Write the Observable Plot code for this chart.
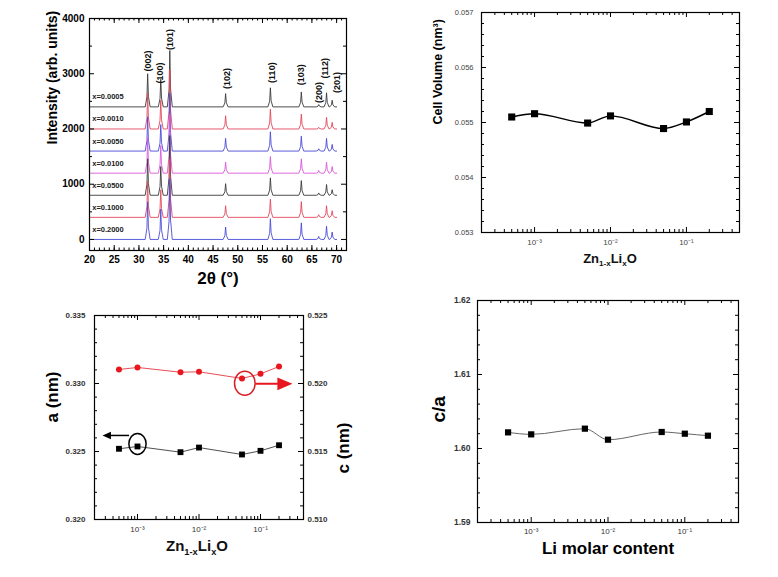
<!DOCTYPE html>
<html><head><meta charset="utf-8">
<script src="https://cdn.jsdelivr.net/npm/d3@7"></script>
<script src="https://cdn.jsdelivr.net/npm/@observablehq/plot@0.6"></script>
<style>
html,body{margin:0;padding:0;background:#fff;}
#wrap{position:relative;width:778px;height:577px;overflow:hidden;background:#fff;font-family:"Liberation Sans",Arial,Helvetica,sans-serif;}
.lab{position:absolute;font-weight:bold;white-space:nowrap;transform:translateX(-50%);color:#111;line-height:1;}
.lab sub{font-size:0.62em;vertical-align:-0.4em;line-height:0;}
</style></head><body><div id="wrap"></div>
<script>
// ---------- DATA ----------
// XRD panel
const peakPos = [31.77, 34.42, 36.25, 47.54, 56.60, 62.86, 66.38, 67.96, 69.10];
const hkl = ["(002)","(100)","(101)","(102)","(110)","(103)","(200)","(112)","(201)"];
const hklLabelX = [31.95, 34.32, 36.33, 47.75, 57.0, 62.85, 66.4, 67.75, 70.0];
const hklLabelY = [3230, 3015, 3620, 2915, 3020, 2980, 2660, 3100, 2840];
const samples = ["x=0.0005","x=0.0010","x=0.0050","x=0.0100","x=0.0500","x=0.1000","x=0.2000"];
const offsets = [2400, 2000, 1600, 1200, 800, 400, 0];
const sampleColors = ["#3a3a3a","#e2475c","#4b4bd8","#d958d9","#3a3a3a","#e2475c","#4b4bd8"];
// peak heights above each baseline: (002),(100),(101),(102),(110),(103),(200),(112),(201)
const peakHeights = [
  [600, 500, 1020, 240, 345, 270, 42, 255, 120],
  [650, 520, 1080, 240, 360, 270, 30, 210, 120],
  [620, 480, 1050, 230, 350, 270, 42, 230, 120],
  [640, 500, 1060, 200, 300, 260, 48, 200, 120],
  [660, 520, 1080, 210, 315, 265, 42, 195, 100],
  [650, 500, 1050, 210, 330, 285, 48, 210, 120],
  [680, 550, 1100, 225, 375, 300, 54, 240, 135]
];
const peakProfile = [[-0.5, 0], [-0.15, 0.3], [0, 1], [0.15, 0.32], [0.5, 0]];
const scanRange = [20, 70];

// lattice parameter panels
const liX = [0.0005, 0.001, 0.005, 0.01, 0.05, 0.1, 0.2];
const cellVolume = [0.05510, 0.05516, 0.05499, 0.05512, 0.05489, 0.05501, 0.05520];
const aParam = [0.32520, 0.32537, 0.32495, 0.32529, 0.32478, 0.32505, 0.32546];
const cParam = [0.52103, 0.52118, 0.52083, 0.52086, 0.52037, 0.52071, 0.52125];
const cOverA = [1.60218, 1.60191, 1.60268, 1.60119, 1.60223, 1.60200, 1.60173];

// tick labels
const xrdXTicks = [20, 25, 30, 35, 40, 45, 50, 55, 60, 65, 70];
const xrdYTicks = [0, 1000, 2000, 3000, 4000];
const logTicks = [0.001, 0.01, 0.1];
const logTickLabels = ["10\u207B\u00B3", "10\u207B\u00B2", "10\u207B\u00B9"];
const volTicks = [0.053, 0.054, 0.055, 0.056, 0.057];
const aTicks = [0.320, 0.325, 0.330, 0.335];
const cTicks = [0.510, 0.515, 0.520, 0.525];
const caTicks = [1.59, 1.60, 1.61, 1.62];

// annotations (panel a/c): circled points and arrows
const blackMark = {x: 0.001, a: 0.32556};
const redMark = {x: 0.0556, c: 0.52002};
const blackArrow = {x1: 0.00073, x2: 0.00027, a: 0.32618};
const redArrow = {x1: 0.083, x2: 0.33, c: 0.51998};

// ---------- HELPERS ----------
const FONT = '"Liberation Sans", Arial, Helvetica, sans-serif';
const wrap = document.getElementById("wrap");
const cShift = cTicks[0] - aTicks[0]; // map c-axis onto a-axis

function put(el, left, top) {
  el.style.position = "absolute"; el.style.left = left + "px"; el.style.top = top + "px";
  wrap.appendChild(el);
}
const tickOpts = {stroke: "#000", strokeWidth: 1};
function ticksX(vals, len, fh) {
  return [Plot.ruleX(vals, {insetTop: fh - len, ...tickOpts}), Plot.ruleX(vals, {insetBottom: fh - len, ...tickOpts})];
}
function ticksY(vals, len, fw) {
  return [Plot.ruleY(vals, {insetRight: fw - len, ...tickOpts}), Plot.ruleY(vals, {insetLeft: fw - len, ...tickOpts})];
}
const logMinor = [];
for (const k of [-4, -3, -2, -1]) for (let m = 2; m <= 9; m++) {
  const v = m * Math.pow(10, k);
  if (v > 2.01e-4 && v < 0.499) logMinor.push(v);
}
const logFmt = d => logTickLabels[logTicks.findIndex(t => Math.abs(t - d) < t * 1e-6)] ?? "";
const ellipse = (fx, fy) => ({draw(ctx, size) {
  const r = Math.sqrt(size / Math.PI), rx = r * fx, ry = r * fy, k = 0.5523;
  ctx.moveTo(rx, 0);
  ctx.bezierCurveTo(rx, ry * k, rx * k, ry, 0, ry);
  ctx.bezierCurveTo(-rx * k, ry, -rx, ry * k, -rx, 0);
  ctx.bezierCurveTo(-rx, -ry * k, -rx * k, -ry, 0, -ry);
  ctx.bezierCurveTo(rx * k, -ry, rx, -ry * k, rx, 0);
  ctx.closePath();
}});
const head = (dir, hf) => ({draw(ctx, size) {
  const r = Math.sqrt(size / Math.PI);
  ctx.moveTo(0, 0); ctx.lineTo(-dir * 2 * r, -hf * r); ctx.lineTo(-dir * 2 * r, hf * r); ctx.closePath();
}});
const baseStyle = {fontFamily: FONT, background: "transparent", color: "#000", overflow: "visible"};
const LOGDOM = [2e-4, 0.5];

// ---------- PANEL 1: XRD ----------
{
  const W = 360, H = 295, ml = 89, mr = 14, mt = 18, mb = 45;
  const fw = W - ml - mr, fh = H - mt - mb;
  const lines = samples.map((s, i) => {
    const pts = [{x: scanRange[0], y: offsets[i]}];
    peakPos.forEach((p, j) => peakProfile.forEach(([dx, f]) =>
      pts.push({x: p + dx, y: offsets[i] + f * peakHeights[i][j]})));
    pts.push({x: scanRange[1], y: offsets[i]});
    return Plot.line(pts, {x: "x", y: "y", stroke: sampleColors[i], strokeWidth: 0.9});
  });
  const svg = Plot.plot({
    width: W, height: H, marginLeft: ml, marginRight: mr, marginTop: mt, marginBottom: mb,
    x: {domain: [20, 72]}, y: {domain: [-200, 4000]},
    style: baseStyle,
    marks: [
      ...lines,
      ...ticksX(xrdXTicks, 5, fh), ...ticksX(d3.range(21, 72, 1), 2.5, fh),
      ...ticksY(xrdYTicks, 5, fw), ...ticksY(d3.range(500, 4000, 1000), 3, fw),
      Plot.axisX({ticks: xrdXTicks, tickFormat: d => String(d), tickSize: 0, tickPadding: 5, fontSize: 10, fontWeight: "bold", label: null}),
      Plot.axisY({ticks: xrdYTicks, tickFormat: d => String(d), tickSize: 0, tickPadding: 5, fontSize: 10, fontWeight: "bold", label: null}),
      Plot.text(samples, {x: 20.55, y: (d, i) => offsets[i] + 180, text: d => d, textAnchor: "start", fontSize: 7.5, fontWeight: "bold", fill: "#222"}),
      Plot.text(hkl, {x: (d, i) => hklLabelX[i], y: (d, i) => hklLabelY[i], text: d => d, rotate: -90, fontSize: 9, fontWeight: "bold", fill: "#111"}),
      Plot.text(["Intensity (arb. units)"], {frameAnchor: "left", dx: -37, dy: 10, rotate: -90, text: d => d, fontSize: 14, fontWeight: "bold"}),
      Plot.text(["2\u03B8 (\u00B0)"], {frameAnchor: "bottom", dy: 33, text: d => d, fontSize: 17, fontWeight: "bold"}),
      Plot.frame({stroke: "#000", strokeWidth: 1.2})
    ]
  });
  put(svg, 0, 0);
}

// ---------- PANEL 2: Cell volume ----------
{
  const W = 388, H = 290, ml = 91, mr = 39, mt = 12, mb = 58;
  const fw = W - ml - mr, fh = H - mt - mb;
  const data = liX.map((x, i) => ({x, y: cellVolume[i]}));
  const svg = Plot.plot({
    width: W, height: H, marginLeft: ml, marginRight: mr, marginTop: mt, marginBottom: mb,
    x: {type: "log", domain: LOGDOM}, y: {domain: [0.053, 0.057]},
    style: baseStyle,
    marks: [
      ...ticksX(logTicks, 5, fh), ...ticksX(logMinor, 3, fh),
      ...ticksY(volTicks, 5, fw), ...ticksY(d3.range(0.0532, 0.05699, 0.0002), 3, fw),
      Plot.axisX({ticks: logTicks, tickFormat: logFmt, tickSize: 0, tickPadding: 7, fontSize: 8, fill: "#444", label: null}),
      Plot.axisY({ticks: volTicks, tickFormat: d => d.toFixed(3), tickSize: 0, tickPadding: 8, fontSize: 7.5, fill: "#444", label: null}),
      Plot.line(data, {x: "x", y: "y", curve: "monotone-x", stroke: "#000", strokeWidth: 1.4}),
      Plot.dot(data, {x: "x", y: "y", symbol: "square", r: 4, fill: "#000"}),
      Plot.text(["Cell Volume (nm\u00B3)"], {frameAnchor: "left", dx: -44, dy: 2, rotate: -90, text: d => d, fontSize: 12.5, fontWeight: "bold"}),
      Plot.frame({stroke: "#000", strokeWidth: 1.2})
    ]
  });
  put(svg, 390, 0);
  const lab = document.createElement("div");
  lab.className = "lab"; lab.style.fontSize = "13px";
  lab.innerHTML = "Zn<sub>1-x</sub>Li<sub>x</sub>O";
  put(lab, 610, 252);
}

// ---------- PANEL 3: a and c ----------
{
  const W = 390, H = 282, ml = 94, mr = 87, mt = 20, mb = 58;
  const fw = W - ml - mr, fh = H - mt - mb;
  const aData = liX.map((x, i) => ({x, y: aParam[i]}));
  const cData = liX.map((x, i) => ({x, y: cParam[i] - cShift}));
  const svg = Plot.plot({
    width: W, height: H, marginLeft: ml, marginRight: mr, marginTop: mt, marginBottom: mb,
    x: {type: "log", domain: LOGDOM}, y: {domain: [0.320, 0.335]},
    style: baseStyle,
    marks: [
      ...ticksX(logTicks, 5, fh), ...ticksX(logMinor, 3, fh),
      ...ticksY(aTicks, 5, fw), ...ticksY(d3.range(0.321, 0.33451, 0.001), 3, fw),
      Plot.axisX({ticks: logTicks, tickFormat: logFmt, tickSize: 0, tickPadding: 7, fontSize: 8, fill: "#333", label: null}),
      Plot.axisY({ticks: aTicks, tickFormat: d => d.toFixed(3), tickSize: 0, tickPadding: 9, fontSize: 8, fontWeight: "bold", fill: "#333", label: null}),
      Plot.axisY({anchor: "right", ticks: aTicks, tickFormat: d => (d + cShift).toFixed(3), tickSize: 0, tickPadding: 4, fontSize: 8, fontWeight: "bold", fill: "#333", label: null}),
      Plot.line(aData, {x: "x", y: "y", stroke: "#222", strokeWidth: 0.8}),
      Plot.line(cData, {x: "x", y: "y", stroke: "#e0202a", strokeWidth: 0.8}),
      Plot.dot(aData, {x: "x", y: "y", symbol: "square", r: 3.3, fill: "#000"}),
      Plot.dot(cData, {x: "x", y: "y", r: 3, fill: "#e8161f"}),
      Plot.dot([blackMark], {x: "x", y: "a", symbol: ellipse(0.82, 1), r: 10.5, stroke: "#000", strokeWidth: 1.5, fill: "none"}),
      Plot.dot([redMark], {x: "x", y: d => d.c - cShift, symbol: ellipse(0.86, 1), r: 12, stroke: "#d81e25", strokeWidth: 1.5, fill: "none"}),
      Plot.link([blackArrow], {x1: "x1", x2: d => d.x2 * 1.15, y1: "a", y2: "a", stroke: "#000", strokeWidth: 1.5}),
      Plot.dot([blackArrow], {x: "x2", y: "a", symbol: head(-1, 0.9), r: 4.2, fill: "#000"}),
      Plot.link([redArrow], {x1: "x1", x2: d => d.x2 * 0.85, y1: d => d.c - cShift, y2: d => d.c - cShift, stroke: "#e8161f", strokeWidth: 2}),
      Plot.dot([redArrow], {x: "x2", y: d => d.c - cShift, symbol: head(1, 0.85), r: 7.5, fill: "#e8161f"}),
      Plot.text(["a (nm)"], {frameAnchor: "left", dx: -42, dy: 5, rotate: -90, text: d => d, fontSize: 17, fontWeight: "bold"}),
      Plot.text(["c (nm)"], {frameAnchor: "right", dx: 40, dy: 5, rotate: -90, text: d => d, fontSize: 17, fontWeight: "bold"}),
      Plot.frame({stroke: "#000", strokeWidth: 1.2})
    ]
  });
  put(svg, 0, 295);
  const lab = document.createElement("div");
  lab.className = "lab"; lab.style.fontSize = "15px";
  lab.innerHTML = "Zn<sub>1-x</sub>Li<sub>x</sub>O";
  put(lab, 197, 538);
}

// ---------- PANEL 4: c/a ----------
{
  const W = 388, H = 287, ml = 87, mr = 40, mt = 10, mb = 55;
  const fw = W - ml - mr, fh = H - mt - mb;
  const data = liX.map((x, i) => ({x, y: cOverA[i]}));
  const svg = Plot.plot({
    width: W, height: H, marginLeft: ml, marginRight: mr, marginTop: mt, marginBottom: mb,
    x: {type: "log", domain: LOGDOM}, y: {domain: [1.59, 1.62]},
    style: baseStyle,
    marks: [
      ...ticksX(logTicks, 5, fh), ...ticksX(logMinor, 3, fh),
      ...ticksY(caTicks, 5, fw), ...ticksY(d3.range(1.592, 1.6199, 0.002), 3, fw),
      Plot.axisX({ticks: logTicks, tickFormat: logFmt, tickSize: 0, tickPadding: 6, fontSize: 8, fill: "#333", label: null}),
      Plot.axisY({ticks: caTicks, tickFormat: d => d.toFixed(2), tickSize: 0, tickPadding: 7, fontSize: 8.5, fontWeight: "bold", fill: "#333", label: null}),
      Plot.line(data, {x: "x", y: "y", curve: "monotone-x", stroke: "#555", strokeWidth: 0.9}),
      Plot.dot(data, {x: "x", y: "y", symbol: "square", r: 3.5, fill: "#000"}),
      Plot.text(["c/a"], {frameAnchor: "left", dx: -39, dy: 11, rotate: -90, text: d => d, fontSize: 19, fontWeight: "bold"}),
      Plot.text(["Li molar content"], {frameAnchor: "bottom", dy: 31, text: d => d, fontSize: 17, fontWeight: "bold"}),
      Plot.frame({stroke: "#000", strokeWidth: 1.2})
    ]
  });
  put(svg, 390, 290);
}
</script></body></html>
